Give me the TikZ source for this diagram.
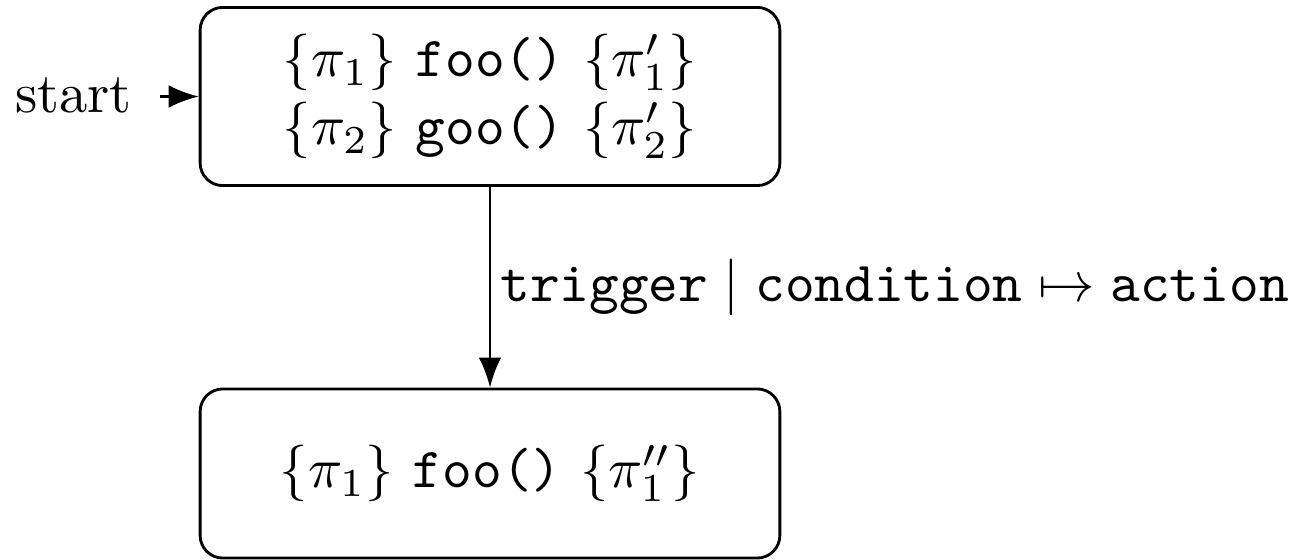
\documentclass[tikz,border=0pt]{standalone}
\usetikzlibrary{arrows.meta}
\tikzset{
  statebox/.style={draw, line width=0.5pt, rounded corners=4pt, minimum width=102.5pt, align=center, inner sep=0pt},
  edge/.style={line width=0.45pt, -{Latex[length=5.3pt,width=4pt]}},
  lbl/.style={inner sep=0pt}
}
\begin{document}
\begin{tikzpicture}[x=0.1768pt,y=-0.1768pt]
\useasboundingbox (0,0) rectangle (1297,560);
\node[statebox, minimum height=31.5pt] (s1) at (490,96.5)
  {$\{\pi_1\}$ \texttt{foo()} $\{\pi'_1\}$\\ $\{\pi_2\}$ \texttt{goo()} $\{\pi'_2\}$};
\node[statebox, minimum height=29.9pt] (s2) at (490,473.5)
  {$\{\pi_1\}$ \texttt{foo()} $\{\pi''_1\}$};
\node[lbl, anchor=base east] (st) at (133,113) {start};
\coordinate (st0) at (160,96.5);
\draw[edge] (st0) -- (s1.west);
\draw[edge] (s1) -- (s2) node[midway, right, lbl, xshift=1.6pt] (lab)
  {$\texttt{trigger} \mid \texttt{condition} \mapsto \texttt{action}$};
\end{tikzpicture}
\end{document}
